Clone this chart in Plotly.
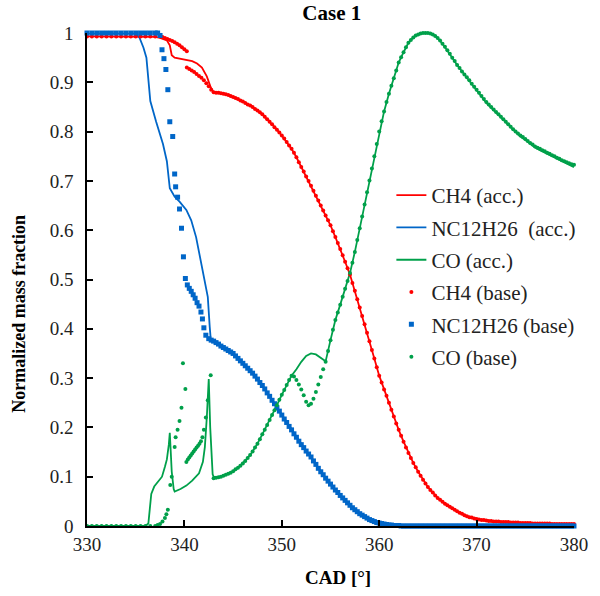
import numpy as np
import plotly.graph_objects as go

# ---------------------------------------------------------------------------
# Accelerated run (solid lines): early, irregularly spaced part up to 343 CAD
# ---------------------------------------------------------------------------
ch4_acc_cad_early = [330, 332, 334, 336, 336.5, 337.0, 337.5, 338.0, 338.2, 338.5,
                     338.7, 339.0, 339.5, 340.0, 340.8, 341.3, 341.8, 342.3, 342.7, 343.0]
ch4_acc_early = [0.993, 0.993, 0.993, 0.993, 0.993, 0.992, 0.990, 0.987, 0.985, 0.975,
                 0.955, 0.950, 0.948, 0.947, 0.943, 0.938, 0.930, 0.912, 0.890, 0.880]

c12_acc_cad_early = [330, 332, 334, 335.0, 335.4, 335.8, 336.1, 336.3, 336.5, 337.1,
                     337.8, 338.2, 338.5, 339.0, 339.5, 340.2, 340.7, 341.2, 341.8, 342.4,
                     342.6, 342.7, 343.0]
c12_acc_early = [1.0, 1.0, 1.0, 1.0, 0.990, 0.970, 0.950, 0.900, 0.862, 0.820,
                 0.775, 0.740, 0.685, 0.668, 0.658, 0.641, 0.620, 0.586, 0.525, 0.465,
                 0.404, 0.380, 0.375]

co_acc_cad_early = [330, 332, 334, 336.0, 336.3, 336.45, 336.6, 336.9, 337.3, 337.7,
                    338.0, 338.2, 338.4, 338.5, 338.6, 338.7, 338.9, 339.0, 339.6, 340.2,
                    340.8, 341.5, 341.9, 342.1, 342.3, 342.5, 342.65, 342.8, 342.9, 343.0]
co_acc_early = [0.0, 0.0, 0.0, 0.0, 0.005, 0.030, 0.065, 0.080, 0.090, 0.100,
                0.120, 0.135, 0.165, 0.189, 0.150, 0.110, 0.075, 0.070, 0.075, 0.082,
                0.092, 0.107, 0.130, 0.160, 0.220, 0.298, 0.200, 0.130, 0.105, 0.100]

# Accelerated run from 343.5 to 380 CAD in steps of 0.5 CAD
acc_cad_late = np.round(np.arange(343.5, 380.001, 0.5), 2)
ch4_acc_late = [
    0.879, 0.877, 0.874, 0.870, 0.866, 0.861, 0.855, 0.850,
    0.843, 0.835, 0.825, 0.815, 0.804, 0.792, 0.779, 0.765,
    0.748, 0.728, 0.709, 0.690, 0.670, 0.650, 0.630, 0.610,
    0.586, 0.562, 0.536, 0.510, 0.477, 0.443, 0.409, 0.375,
    0.340, 0.305, 0.277, 0.250, 0.222, 0.195, 0.171, 0.148,
    0.128, 0.110, 0.094, 0.079, 0.068, 0.057, 0.049, 0.042,
    0.036, 0.030, 0.025, 0.020, 0.017, 0.014, 0.012, 0.011,
    0.010, 0.009, 0.008, 0.008, 0.007, 0.007, 0.006, 0.006,
    0.006, 0.005, 0.005, 0.005, 0.005, 0.004, 0.004, 0.004,
    0.004, 0.004]
c12_acc_late = [
    0.369, 0.362, 0.356, 0.350, 0.340, 0.330, 0.320, 0.310,
    0.298, 0.285, 0.270, 0.255, 0.240, 0.225, 0.210, 0.195,
    0.180, 0.165, 0.152, 0.140, 0.125, 0.110, 0.097, 0.085,
    0.073, 0.062, 0.052, 0.042, 0.033, 0.025, 0.019, 0.013,
    0.009, 0.006, 0.004, 0.002, 0.001, 0.001, 0.0, 0.0,
    0.0, 0.0, 0.0, 0.0, 0.0, 0.0, 0.0, 0.0,
    0.0, 0.0, 0.0, 0.0, 0.0, 0.0, 0.0, 0.0,
    0.0, 0.0, 0.0, 0.0, 0.0, 0.0, 0.0, 0.0,
    0.0, 0.0, 0.0, 0.0, 0.0, 0.0, 0.0, 0.0,
    0.0, 0.0]
co_acc_late = [
    0.099, 0.102, 0.106, 0.111, 0.118, 0.127, 0.138, 0.151,
    0.167, 0.186, 0.205, 0.225, 0.245, 0.266, 0.286, 0.305,
    0.318, 0.333, 0.345, 0.350, 0.348, 0.341, 0.334, 0.377,
    0.418, 0.449, 0.481, 0.513, 0.556, 0.604, 0.652, 0.701,
    0.750, 0.800, 0.841, 0.877, 0.908, 0.940, 0.961, 0.980,
    0.991, 0.997, 1.000, 1.000, 0.997, 0.990, 0.978, 0.965,
    0.950, 0.935, 0.922, 0.910, 0.897, 0.884, 0.871, 0.858,
    0.848, 0.838, 0.828, 0.818, 0.808, 0.798, 0.790, 0.783,
    0.775, 0.768, 0.762, 0.757, 0.752, 0.747, 0.742, 0.737,
    0.732, 0.728]

# ---------------------------------------------------------------------------
# Baseline run (markers)
# ---------------------------------------------------------------------------
# initial plateau, stored every 0.5 CAD
ch4_base_cad_plateau = np.round(np.arange(330.0, 337.501, 0.5), 2)
ch4_base_plateau = [0.993] * 16
c12_base_cad_plateau = np.round(np.arange(330.0, 337.001, 0.5), 2)
c12_base_plateau = [1.0] * 15
co_base_cad_plateau = np.round(np.arange(330.0, 337.001, 0.5), 2)
co_base_plateau = [0.0] * 15

# ignition phase, irregular output steps
ch4_base_cad_ign = [337.75, 338.0, 338.25, 338.5, 338.75, 339.0, 339.25, 339.5, 339.75, 340.0,
                    340.25, 340.25, 340.5, 340.75, 341.0, 341.25, 341.5, 341.75, 342.0, 342.25,
                    342.5, 342.75]
ch4_base_ign = [0.992, 0.990, 0.988, 0.986, 0.984, 0.981, 0.978, 0.975, 0.971, 0.967,
                0.963, 0.930, 0.927, 0.924, 0.921, 0.917, 0.913, 0.909, 0.904, 0.898,
                0.892, 0.885]

c12_base_cad_ign = [337.25, 337.5, 337.7, 337.9, 338.1, 338.3, 338.5, 338.8, 339.0, 339.1,
                    339.3, 339.5, 339.7, 339.9, 340.1, 340.3, 340.5, 340.7, 340.9, 341.1,
                    341.3, 341.5, 341.7, 341.85, 342.0, 342.2, 342.5, 342.75]
c12_base_ign = [1.0, 0.995, 0.966, 0.948, 0.926, 0.885, 0.820, 0.790, 0.714, 0.688,
                0.667, 0.643, 0.604, 0.546, 0.502, 0.489, 0.482, 0.476, 0.469, 0.462,
                0.453, 0.446, 0.434, 0.420, 0.402, 0.387, 0.380, 0.377]

co_base_cad_ign = [337.25, 337.5, 337.75, 338.0, 338.15, 338.3, 338.55, 338.7, 339.0, 339.1,
                   339.3, 339.5, 339.7, 339.85, 340.1, 340.2, 340.35, 340.5, 340.65, 340.8,
                   340.95, 341.1, 341.25, 341.4, 341.55, 341.7, 341.85, 342.0, 342.2, 342.4,
                   342.7]
co_base_ign = [0.002, 0.004, 0.009, 0.016, 0.024, 0.033, 0.083, 0.100, 0.160, 0.180,
               0.195, 0.213, 0.240, 0.330, 0.278, 0.130, 0.135, 0.139, 0.143, 0.147,
               0.151, 0.155, 0.159, 0.163, 0.167, 0.172, 0.180, 0.195, 0.220, 0.255,
               0.306]

# main combustion, output every 0.25 CAD from 343 to 380
base_cad_late = np.round(np.arange(343.0, 380.001, 0.25), 2)
ch4_base_late = [
    0.880, 0.879, 0.879, 0.878,  0.877, 0.876, 0.874, 0.872,
    0.870, 0.868, 0.866, 0.863,  0.861, 0.858, 0.855, 0.853,
    0.850, 0.846, 0.843, 0.839,  0.835, 0.830, 0.825, 0.820,
    0.815, 0.809, 0.804, 0.798,  0.792, 0.786, 0.779, 0.772,
    0.765, 0.757, 0.748, 0.738,  0.728, 0.719, 0.709, 0.700,
    0.690, 0.680, 0.670, 0.660,  0.650, 0.640, 0.630, 0.620,
    0.610, 0.598, 0.586, 0.574,  0.562, 0.549, 0.536, 0.523,
    0.510, 0.493, 0.477, 0.460,  0.443, 0.426, 0.409, 0.392,
    0.375, 0.357, 0.340, 0.322,  0.305, 0.291, 0.277, 0.264,
    0.250, 0.236, 0.222, 0.208,  0.195, 0.183, 0.171, 0.159,
    0.148, 0.138, 0.128, 0.119,  0.110, 0.102, 0.094, 0.086,
    0.079, 0.073, 0.068, 0.062,  0.057, 0.053, 0.049, 0.045,
    0.042, 0.039, 0.036, 0.033,  0.030, 0.027, 0.025, 0.022,
    0.020, 0.018, 0.017, 0.015,  0.014, 0.013, 0.012, 0.012,
    0.011, 0.010, 0.010, 0.009,  0.009, 0.009, 0.008, 0.008,
    0.008, 0.008, 0.007, 0.007,  0.007, 0.007, 0.006, 0.006,
    0.006, 0.006, 0.006, 0.005,  0.005, 0.005, 0.005, 0.005,
    0.005, 0.005, 0.005, 0.004,  0.004, 0.004, 0.004, 0.004,
    0.004, 0.004, 0.004, 0.004,
    0.004]
c12_base_late = [
    0.375, 0.372, 0.369, 0.365,  0.362, 0.359, 0.356, 0.353,
    0.350, 0.345, 0.340, 0.335,  0.330, 0.325, 0.320, 0.315,
    0.310, 0.304, 0.298, 0.291,  0.285, 0.278, 0.270, 0.263,
    0.255, 0.248, 0.240, 0.233,  0.225, 0.217, 0.210, 0.202,
    0.195, 0.187, 0.180, 0.172,  0.165, 0.159, 0.152, 0.146,
    0.140, 0.132, 0.125, 0.117,  0.110, 0.104, 0.097, 0.091,
    0.085, 0.079, 0.073, 0.068,  0.062, 0.057, 0.052, 0.047,
    0.042, 0.037, 0.033, 0.029,  0.025, 0.022, 0.019, 0.016,
    0.013, 0.011, 0.009, 0.007,  0.006, 0.005, 0.004, 0.003,
    0.002, 0.002, 0.001, 0.001,  0.001, 0.0, 0.0, 0.0,
] + [0.0] * 69
co_base_late = [
    0.097, 0.098, 0.099, 0.100,  0.102, 0.104, 0.106, 0.108,
    0.111, 0.115, 0.118, 0.122,  0.127, 0.132, 0.138, 0.144,
    0.151, 0.159, 0.167, 0.176,  0.186, 0.195, 0.205, 0.215,
    0.225, 0.235, 0.245, 0.256,  0.266, 0.276, 0.286, 0.296,
    0.305, 0.303, 0.296, 0.287,  0.277, 0.265, 0.252, 0.245,
    0.248, 0.258, 0.272, 0.287,  0.302, 0.318, 0.333, 0.355,
    0.377, 0.398, 0.418, 0.433,  0.449, 0.465, 0.481, 0.497,
    0.513, 0.534, 0.556, 0.580,  0.604, 0.628, 0.652, 0.677,
    0.701, 0.725, 0.750, 0.775,  0.800, 0.821, 0.841, 0.860,
    0.877, 0.893, 0.908, 0.924,  0.940, 0.951, 0.961, 0.971,
    0.980, 0.986, 0.991, 0.995,  0.997, 0.999, 1.000, 1.000,
    1.000, 0.999, 0.997, 0.994,  0.990, 0.985, 0.978, 0.972,
    0.965, 0.958, 0.950, 0.943,  0.935, 0.929, 0.922, 0.916,
    0.910, 0.904, 0.897, 0.891,  0.885, 0.879, 0.872, 0.866,
    0.860, 0.855, 0.850, 0.845,  0.840, 0.835, 0.830, 0.825,
    0.820, 0.815, 0.810, 0.805,  0.800, 0.796, 0.792, 0.789,
    0.785, 0.781, 0.777, 0.774,  0.770, 0.767, 0.765, 0.762,
    0.760, 0.757, 0.755, 0.752,  0.750, 0.747, 0.745, 0.742,
    0.740, 0.738, 0.736, 0.734,
    0.733]

for arr in (ch4_acc_late, c12_acc_late, co_acc_late):
    assert len(arr) == len(acc_cad_late)
for arr in (ch4_base_late, c12_base_late, co_base_late):
    assert len(arr) == len(base_cad_late)

RED = "#FF0000"
BLUE = "#0066C8"
GREEN = "#00A04A"
FONT = "'Liberation Serif', 'Times New Roman', 'DejaVu Serif', serif"


def join(*parts):
    out = []
    for p in parts:
        out.extend(list(p))
    return out


fig = go.Figure()

acc_series = [
    ("CH4 (acc.)", ch4_acc_cad_early, ch4_acc_early, ch4_acc_late, RED),
    ("NC12H26  (acc.)", c12_acc_cad_early, c12_acc_early, c12_acc_late, BLUE),
    ("CO (acc.)", co_acc_cad_early, co_acc_early, co_acc_late, GREEN),
]
for name, cad_e, val_e, val_l, color in acc_series:
    fig.add_trace(go.Scatter(
        x=join(cad_e, acc_cad_late), y=join(val_e, val_l),
        mode="lines", name=name, legendgroup=name,
        line=dict(color=color, width=1.8), cliponaxis=False,
    ))

base_series = [
    ("CH4 (base)", [ch4_base_cad_plateau, ch4_base_cad_ign, base_cad_late],
     [ch4_base_plateau, ch4_base_ign, ch4_base_late], RED, "circle", 4),
    ("NC12H26 (base)", [c12_base_cad_plateau, c12_base_cad_ign, base_cad_late],
     [c12_base_plateau, c12_base_ign, c12_base_late], BLUE, "square", 5),
    ("CO (base)", [co_base_cad_plateau, co_base_cad_ign, base_cad_late],
     [co_base_plateau, co_base_ign, co_base_late], GREEN, "circle", 4),
]
for name, cads, vals, color, symbol, size in base_series:
    fig.add_trace(go.Scatter(
        x=join(*cads), y=join(*vals),
        mode="markers", name=name, legendgroup=name,
        marker=dict(color=color, symbol=symbol, size=size, line=dict(width=0)),
        cliponaxis=False,
    ))

axis_common = dict(
    showline=True, linecolor="black", linewidth=1.5,
    ticks="inside", ticklen=6, tickwidth=1.5, tickcolor="black",
    showgrid=False, zeroline=False,
    tickfont=dict(family=FONT, size=19, color="#222222"),
)

fig.update_layout(
    width=600, height=596,
    margin=dict(l=87, r=23, t=33, b=70),
    paper_bgcolor="white", plot_bgcolor="white",
    font=dict(family=FONT, color="#222222"),
    title=dict(text="<b>Case 1</b>", x=0.553, xanchor="center", y=0.979, yanchor="middle",
               font=dict(family=FONT, size=21, color="black")),
    xaxis=dict(range=[330, 380], dtick=10, tick0=330, **axis_common),
    yaxis=dict(range=[0, 1], dtick=0.1, tick0=0, ticklabelstandoff=8, **axis_common),
    legend=dict(
        x=0.625, y=0.712, xanchor="left", yanchor="top",
        font=dict(family=FONT, size=21, color="#222222"),
        traceorder="grouped", tracegroupgap=2,
        bgcolor="rgba(0,0,0,0)", borderwidth=0,
    ),
    showlegend=True,
    annotations=[
        dict(text="<b>CAD [°]</b>", xref="paper", yref="paper",
             x=0.515, y=-0.105, xanchor="center", yanchor="middle", showarrow=False,
             font=dict(family=FONT, size=19, color="black")),
        dict(text="<b>Normalized mass fraction</b>", xref="paper", yref="paper",
             x=-0.14, y=0.43, xanchor="center", yanchor="middle", showarrow=False,
             textangle=-90, font=dict(family=FONT, size=18, color="black")),
    ],
)

fig.write_html("out.html")
